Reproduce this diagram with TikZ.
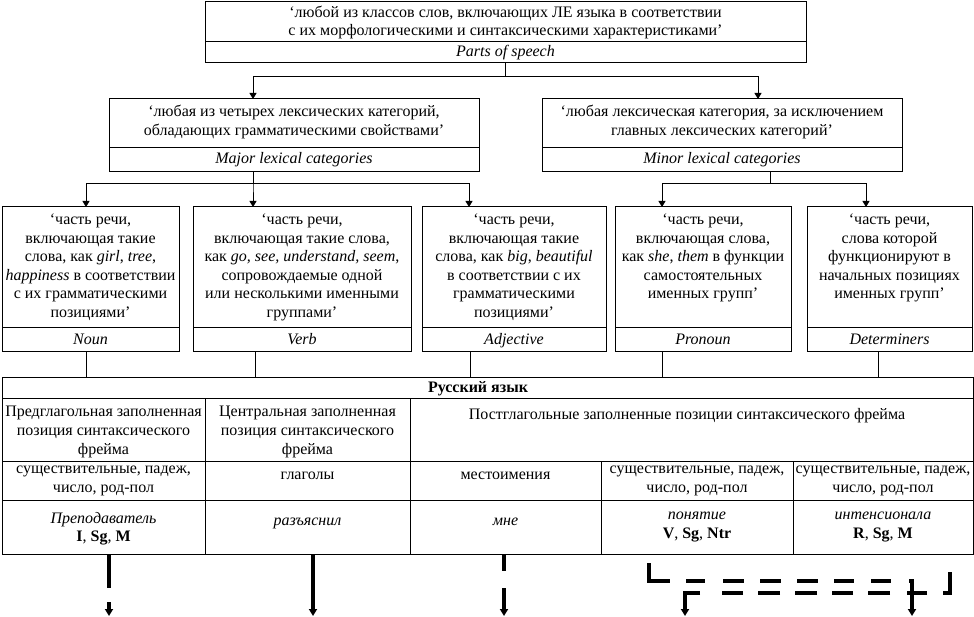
\documentclass[tikz,border=0pt]{standalone}
\usepackage{fontspec}
\setmainfont{Liberation Serif}
\usetikzlibrary{arrows.meta,calc}
\begin{document}
\begin{tikzpicture}[x=1pt,y=-1pt,
  cell/.style={draw, line width=1pt, inner sep=0pt, outer sep=0pt, anchor=north west},
  txt/.style={font=\fontsize{16}{18.8}\selectfont, align=center, inner sep=0pt, anchor=north, execute at begin node=\strut},
  conn/.style={line width=1pt},
  arr/.style={line width=1pt, -{Triangle[length=6pt,width=7pt]}},
  fatarr/.style={line width=3.5pt, -{Triangle[length=7pt,width=8pt]}}]
\fill[white] (0,0) rectangle (974,617);
\useasboundingbox (0,0) rectangle (974,617);

% top box
\node[cell, minimum width=601pt, minimum height=40pt] (topdef) at (205,2) {};
\node[cell, minimum width=601pt, minimum height=21pt] (toplab) at (205,42) {};
\node[txt, font=\fontsize{16}{18}\selectfont] (topT) at (505.5,5.9) {‘любой из классов слов, включающих ЛЕ языка в соответствии\\с их морфологическими и синтаксическими характеристиками’};
\node[txt] (topL) at (505.5,43.3) {\textit{Parts of speech}};

% major / minor
\node[cell, minimum width=370pt, minimum height=49pt] (majdef) at (109,99) {};
\node[cell, minimum width=370pt, minimum height=24pt] (majlab) at (109,148) {};
\node[txt] (majT) at (294,104.8) {‘любая из четырех лексических категорий,\\обладающих грамматическими свойствами’};
\node[txt] (majL) at (294,149.8) {\textit{Major lexical categories}};

\node[cell, minimum width=360pt, minimum height=49pt] (mindef) at (542,99) {};
\node[cell, minimum width=360pt, minimum height=24pt] (minlab) at (542,148) {};
\node[txt] (minT) at (722,104.8) {‘любая лексическая категория, за исключением\\главных лексических категорий’};
\node[txt] (minL) at (722,149.8) {\textit{Minor lexical categories}};

% children
\node[cell, minimum width=177pt, minimum height=121pt] (noundef) at (2,207) {};
\node[cell, minimum width=177pt, minimum height=24pt] (nounlab) at (2,328) {};
\node[txt, font=\fontsize{16}{18.5}\selectfont] (nounT) at (90.5,214) {‘часть речи,\\включающая такие\\слова, как \textit{girl}, \textit{tree},\\\textit{happiness} в соответствии\\с их грамматическими\\позициями’};
\node[txt] (nounL) at (90.5,330.8) {\textit{Noun}};

\node[cell, minimum width=218pt, minimum height=121pt] (verbdef) at (193,207) {};
\node[cell, minimum width=218pt, minimum height=24pt] (verblab) at (193,328) {};
\node[txt, font=\fontsize{16}{18.5}\selectfont] (verbT) at (302,214) {‘часть речи,\\включающая такие слова,\\как \textit{go, see, understand, seem},\\сопровождаемые одной\\или несколькими именными\\группами’};
\node[txt] (verbL) at (302,330.8) {\textit{Verb}};

\node[cell, minimum width=184pt, minimum height=121pt] (adjdef) at (422,207) {};
\node[cell, minimum width=184pt, minimum height=24pt] (adjlab) at (422,328) {};
\node[txt, font=\fontsize{16}{18.5}\selectfont] (adjT) at (514,214) {‘часть речи,\\включающая такие\\слова, как \textit{big}, \textit{beautiful}\\в соответствии с их\\грамматическими\\позициями’};
\node[txt] (adjL) at (514,330.8) {\textit{Adjective}};

\node[cell, minimum width=176pt, minimum height=121pt] (prodef) at (615,207) {};
\node[cell, minimum width=176pt, minimum height=24pt] (prolab) at (615,328) {};
\node[txt, font=\fontsize{16}{18.5}\selectfont] (proT) at (703,214) {‘часть речи,\\включающая слова,\\как \textit{she}, \textit{them} в функции\\самостоятельных\\именных групп’};
\node[txt] (proL) at (703,330.8) {\textit{Pronoun}};

\node[cell, minimum width=165pt, minimum height=121pt] (detdef) at (807,207) {};
\node[cell, minimum width=165pt, minimum height=24pt] (detlab) at (807,328) {};
\node[txt, font=\fontsize{16}{18.5}\selectfont] (detT) at (889.5,214) {‘часть речи,\\слова которой\\функционируют в\\начальных позициях\\именных групп’};
\node[txt] (detL) at (889.5,330.8) {\textit{Determiners}};

% table
\node[cell, minimum width=971pt, minimum height=21pt] (rus) at (2,377) {};
\node[txt] (rusT) at (478,378.8) {\textbf{Русский язык}};
\node[cell, minimum width=203pt, minimum height=63pt] (c21) at (2,398) {};
\node[cell, minimum width=205pt, minimum height=63pt] (c22) at (205,398) {};
\node[cell, minimum width=563pt, minimum height=63pt] (c23) at (410,398) {};
\node[cell, minimum width=203pt, minimum height=39pt] (c31) at (2,461) {};
\node[cell, minimum width=205pt, minimum height=39pt] (c32) at (205,461) {};
\node[cell, minimum width=191pt, minimum height=39pt] (c33) at (410,461) {};
\node[cell, minimum width=192pt, minimum height=39pt] (c34) at (601,461) {};
\node[cell, minimum width=180pt, minimum height=39pt] (c35) at (793,461) {};
\node[cell, minimum width=203pt, minimum height=54pt] (c41) at (2,500) {};
\node[cell, minimum width=205pt, minimum height=54pt] (c42) at (205,500) {};
\node[cell, minimum width=191pt, minimum height=54pt] (c43) at (410,500) {};
\node[cell, minimum width=192pt, minimum height=54pt] (c44) at (601,500) {};
\node[cell, minimum width=180pt, minimum height=54pt] (c45) at (793,500) {};

\node[txt] (t21) at (103.5,405.8) {Предглагольная заполненная\\позиция синтаксического\\фрейма};
\node[txt] (t22) at (307.5,405.8) {Центральная заполненная\\позиция синтаксического\\фрейма};
\node[txt] (t23) at (687,405.8) {Постглагольные заполненные позиции синтаксического фрейма};
\node[txt] (t31) at (103.5,465.8) {существительные, падеж,\\число, род-пол};
\node[txt] (t32) at (307.5,465.8) {глаголы};
\node[txt] (t33) at (505.5,465.8) {местоимения};
\node[txt] (t34) at (697,465.8) {существительные, падеж,\\число, род-пол};
\node[txt] (t35) at (883,465.8) {существительные, падеж,\\число, род-пол};
\node[txt] (t41) at (103.5,511.8) {\textit{Преподаватель}\\\textbf{I}, \textbf{Sg}, \textbf{M}};
\node[txt] (t42) at (307.5,511.8) {\textit{разъяснил}};
\node[txt] (t43) at (505.5,511.8) {\textit{мне}};
\node[txt] (t44) at (697,511.8) {\textit{понятие}\\\textbf{V}, \textbf{Sg}, \textbf{Ntr}};
\node[txt] (t45) at (883,511.8) {\textit{интенсионала}\\\textbf{R}, \textbf{Sg}, \textbf{M}};

% connectors top level
\draw[arr] (toplab.south) -- ++(0,14) -| ([xshift=-41pt]majdef.north);
\draw[arr] (toplab.south) -- ++(0,14) -| ([xshift=36pt]mindef.north);
\draw[arr] ([xshift=-41pt]majlab.south) -- ++(0,12) -| ([xshift=-4.5pt]noundef.north);
\draw[arr] ([xshift=-41pt]majlab.south) -- ++(0,12) -| ([xshift=-49pt]verbdef.north);
\draw[arr] ([xshift=-41pt]majlab.south) -- ++(0,12) -| ([xshift=-45pt]adjdef.north);
\draw[arr] ([xshift=48pt]minlab.south) -- ++(0,12) -| ([xshift=-41pt]prodef.north);
\draw[arr] ([xshift=48pt]minlab.south) -- ++(0,12) -| ([xshift=-23.5pt]detdef.north);

% children to table
\draw[conn] ([xshift=-4.5pt]nounlab.south) -- ([xshift=-4.5pt]nounlab.south |- rus.north);
\draw[conn] ([xshift=-47pt]verblab.south) -- ([xshift=-47pt]verblab.south |- rus.north);
\draw[conn] ([xshift=-44pt]adjlab.south) -- ([xshift=-44pt]adjlab.south |- rus.north);
\draw[conn] ([xshift=-41pt]prolab.south) -- ([xshift=-41pt]prolab.south |- rus.north);
\draw[conn] ([xshift=-11.5pt]detlab.south) -- ([xshift=-11.5pt]detlab.south |- rus.north);

% bottom thick arrows
\coordinate (e1) at (109,616);
\coordinate (e2) at (313,616);
\coordinate (e3) at (504,616);
\coordinate (e4) at (685,616);
\coordinate (e5) at (912,616);
\draw[fatarr, dash pattern=on 33pt off 14pt on 100pt] ([xshift=5.5pt,yshift=-1pt]c41.south) -- (e1);
\draw[fatarr] ([xshift=5.5pt,yshift=-1pt]c42.south) -- (e2);
\draw[fatarr, dash pattern=on 16pt off 17pt on 100pt] ([xshift=-1.5pt,yshift=-1pt]c43.south) -- (e3);
\draw[fatarr, dash pattern=on 39pt off 16pt on 19pt off 18pt on 21pt off 16pt on 21pt off 16pt on 21pt off 16pt on 20pt off 17pt on 20pt off 18pt on 100pt]
  ($(c44.south west)+(48,9)$) -- ++(0,18) -| (e5);
\draw[fatarr, dash pattern=on 28pt off 16pt on 20pt off 17pt on 22pt off 15pt on 21pt off 15pt on 22pt off 15pt on 22pt off 15pt on 21pt off 22pt on 100pt]
  ($(c45.south west)+(157,18)$) -- ++(0,21) -| (e4);
\end{tikzpicture}
\end{document}
